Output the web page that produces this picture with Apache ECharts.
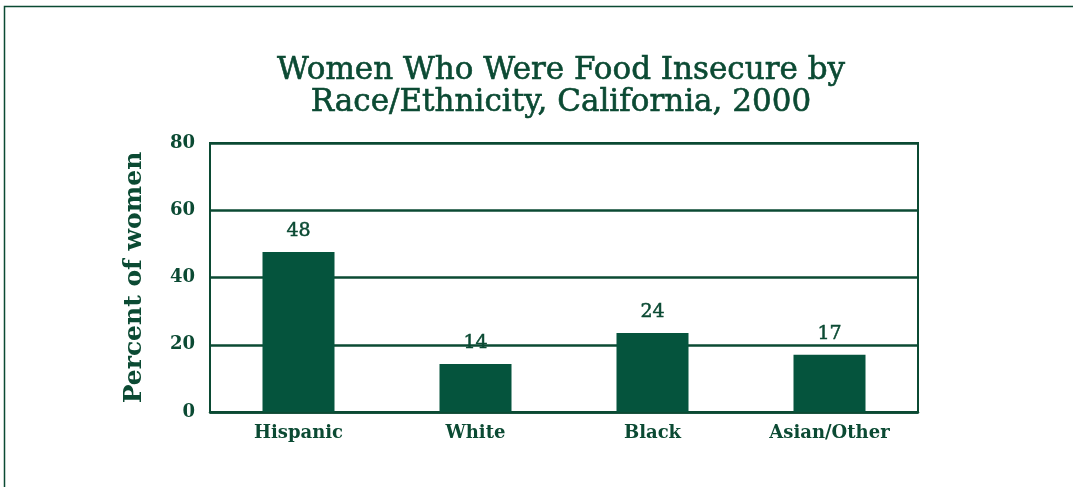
<!DOCTYPE html>
<html><head><meta charset="utf-8">
<script src="https://cdn.jsdelivr.net/npm/echarts@6/dist/echarts.min.js"></script>
<style>html,body{margin:0;padding:0;background:#fff}#c{width:1073px;height:487px}</style>
</head><body><div id="c"></div>
<script>
const categories = ["Hispanic", "White", "Black", "Asian/Other"];
const values = [47.6, 14.3, 23.5, 17.0];
const valueLabels = ["48", "14", "24", "17"];
const yTicks = [0, 20, 40, 60, 80];

const GREEN = "#05543D";
const TEXT = "#0B4A33";
const FONT = "DejaVu Serif";

const chart = echarts.init(document.getElementById("c"), null, {renderer: "canvas"});
chart.setOption({
  animation: false,
  backgroundColor: "#fff",
  title: {
    text: "Women Who Were Food Insecure by\nRace/Ethnicity, California, 2000",
    left: 556, top: 50, textAlign: "center",
    textStyle: {fontFamily: FONT, fontWeight: "normal", fontSize: 31, color: TEXT, lineHeight: 32,
      textBorderColor: TEXT, textBorderWidth: 0.6}
  },
  graphic: [{
    type: "rect", shape: {x: 4.5, y: 6.5, width: 1200, height: 600},
    style: {fill: "none", stroke: TEXT, lineWidth: 1.5}, silent: true
  }],
  grid: {left: 210, top: 143, width: 708, height: 269, show: true, borderColor: TEXT, borderWidth: 2, backgroundColor: "transparent"},
  xAxis: {
    type: "category", data: categories,
    axisLine: {lineStyle: {color: TEXT, width: 2.5}},
    axisTick: {show: false},
    axisLabel: {fontFamily: FONT, fontWeight: "bold", fontSize: 18, color: TEXT, margin: 12}
  },
  yAxis: {
    type: "value", min: 0, max: 80, interval: 20,
    name: "Percent of women", nameLocation: "middle", nameGap: 63,
    nameTextStyle: {fontFamily: FONT, fontWeight: "bold", fontSize: 25, color: TEXT},
    axisLine: {show: true, lineStyle: {color: TEXT, width: 2}},
    axisTick: {show: false},
    axisLabel: {fontFamily: FONT, fontWeight: "bold", fontSize: 18, color: TEXT, margin: 15,
      formatter: v => yTicks.includes(v) ? String(v) : ""},
    splitLine: {lineStyle: {color: TEXT, width: 2.5}}
  },
  series: [{
    type: "bar", data: values, barWidth: 72,
    itemStyle: {color: GREEN},
    label: {show: true, position: "top", distance: 11,
      fontFamily: FONT, fontWeight: "normal", fontSize: 19, color: TEXT,
      textBorderColor: TEXT, textBorderWidth: 0.5,
      formatter: p => valueLabels[p.dataIndex]}
  }]
});
</script></body></html>
